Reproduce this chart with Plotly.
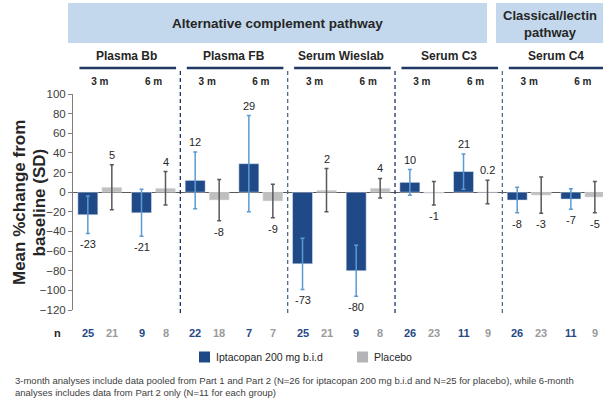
import plotly.graph_objects as go

# ---------------- data ----------------
panels = ["Plasma Bb", "Plasma FB", "Serum Wieslab", "Serum C3", "Serum C4"]
timepoints = ["3 m", "6 m"]
categories = [f"{p} {t}" for p in panels for t in timepoints]

ipt_mean = [-23, -21, 12, 29, -73, -80, 10, 21, -8, -7]
ipt_sd = [19, 24, 29, 49, 26, 26, 13, 18, 13, 10.5]
pbo_mean = [5, 4, -8, -9, 2, 4, -1, 0.2, -3, -5]
pbo_sd = [23, 17, 21, 17, 22, 10, 12, 12, 18.5, 16]
ipt_n = [25, 9, 22, 7, 25, 9, 26, 11, 26, 11]
pbo_n = [21, 8, 18, 7, 21, 8, 23, 9, 23, 9]

pathways = ["Alternative complement pathway", "Classical/lectin<br>pathway"]
series_names = ["Iptacopan 200 mg b.i.d", "Placebo"]
y_title_lines = ["Mean %change from", "baseline (SD)"]
footnote = ("3-month analyses include data pooled from Part 1 and Part 2 (N=26 for iptacopan 200 mg b.i.d "
            "and N=25 for placebo), while 6-month<br>analyses includes data from Part 2 only (N=11 for each group)")

# ---------------- style ----------------
W, H = 603, 398
ML, MR, MT, MB = 73, 0, 94, 88
PW, PH = W - ML - MR, H - MT - MB
BLUE = "#1F4A87"
GRAY = "#BFBFBF"
BLUE_ERR = "#5B9BD5"
GRAY_ERR = "#595959"
NAVY = "#1F3864"
HEADER_BG = "#C3D8EC"
TXT = "#262626"
FONT = "Liberation Sans, Arial, sans-serif"
BARGAP = 0.106
OFF = (1 - BARGAP) / 4


def py(p):  # pixel row -> paper y
    return (H - MB - p) / PH


def px(p):  # pixel column -> paper x
    return (p - ML) / PW


fig = go.Figure()
fig.add_trace(go.Bar(
    x=categories, y=ipt_mean, name=series_names[0], marker_color=BLUE,
    error_y=dict(type="data", array=ipt_sd, color=BLUE_ERR, thickness=1.5, width=2),
    showlegend=False))
fig.add_trace(go.Bar(
    x=categories, y=pbo_mean, name=series_names[1], marker_color=GRAY,
    error_y=dict(type="data", array=pbo_sd, color=GRAY_ERR, thickness=1.5, width=2),
    showlegend=False))

ann = []
shapes = []


def note(**kw):
    kw.setdefault("showarrow", False)
    kw.setdefault("xanchor", "center")
    kw.setdefault("yanchor", "middle")
    ann.append(kw)


# value labels
for i in range(len(categories)):
    for v, s, dx in ((ipt_mean[i], ipt_sd[i], -OFF), (pbo_mean[i], pbo_sd[i], OFF)):
        pos = v >= 0
        note(x=i + dx, y=v + s if pos else v - s, xref="x", yref="y",
             text=f"{v:g}", yshift=10 if pos else -11,
             font=dict(size=11, color=TXT, family=FONT))

# n row
note(x=px(57), y=py(333), xref="paper", yref="paper", text="<b>n</b>",
     font=dict(size=11, color=TXT, family=FONT))
for i in range(len(categories)):
    note(x=i - OFF, y=py(333), xref="x", yref="paper", text=f"<b>{ipt_n[i]}</b>",
         font=dict(size=11, color=BLUE, family=FONT))
    note(x=i + OFF, y=py(333), xref="x", yref="paper", text=f"<b>{pbo_n[i]}</b>",
         font=dict(size=11, color="#9A9A9A", family=FONT))

# panel titles, underlines, separators
for p, name in enumerate(panels):
    note(x=2 * p + 0.5, y=py(56), xref="x", yref="paper", text=f"<b>{name}</b>",
         font=dict(size=12, color=TXT, family=FONT))
    shapes.append(dict(type="line", xref="x", yref="paper", x0=2 * p - 0.38, x1=2 * p + 1.42,
                       y0=py(68), y1=py(68), line=dict(color=NAVY, width=2.5)))
    if p > 0:
        shapes.append(dict(type="line", xref="x", yref="paper", x0=2 * p - 0.5, x1=2 * p - 0.5,
                           y0=py(313), y1=py(69),
                           line=dict(color=NAVY if p % 2 else "#4F6B8F", width=1.3, dash="4px,3px")))

# header boxes
shapes.append(dict(type="rect", xref="paper", yref="paper", x0=px(68), x1=px(487),
                   y0=py(43), y1=py(3), fillcolor=HEADER_BG, line=dict(width=0), layer="below"))
shapes.append(dict(type="rect", xref="paper", yref="paper", x0=px(496), x1=px(603),
                   y0=py(43), y1=py(3), fillcolor=HEADER_BG, line=dict(width=0), layer="below"))
note(x=px((68 + 487) / 2), y=py(23), xref="paper", yref="paper",
     text=f"<b>{pathways[0]}</b>", font=dict(size=13.5, color=TXT, family=FONT))
note(x=px((496 + 603) / 2), y=py(24), xref="paper", yref="paper",
     text=f"<b>{pathways[1]}</b>", font=dict(size=13, color=TXT, family=FONT))

# y title (two lines, tighter spacing than plotly's default)
for cx, line in zip((19, 38.5), y_title_lines):
    note(x=px(cx), y=py(203), xref="paper", yref="paper", textangle=-90,
         text=f"<b>{line}</b>", font=dict(size=17, color=TXT, family=FONT))

# legend (manual)
for (x0, x1, tx), col, name in (((199, 210, 214), BLUE, series_names[0]),
                                ((357, 368, 372), "#B3B3B8", series_names[1])):
    shapes.append(dict(type="rect", xref="paper", yref="paper", x0=px(x0), x1=px(x1),
                       y0=py(362.5), y1=py(351.5), fillcolor=col, line=dict(width=0)))
    note(x=px(tx), y=py(357), xref="paper", yref="paper", xanchor="left",
         text=name, font=dict(size=10.5, color=TXT, family=FONT))

# footnote
note(x=px(13), y=py(386), xref="paper", yref="paper", xanchor="left", align="left",
     text=footnote, font=dict(size=9.5, color="#404040", family=FONT))

fig.update_layout(
    width=W, height=H, margin=dict(l=ML, r=MR, t=MT, b=MB),
    paper_bgcolor="white", plot_bgcolor="white",
    barmode="group", bargap=BARGAP, bargroupgap=0.167,
    font=dict(family=FONT, color=TXT),
    annotations=ann, shapes=shapes,
    xaxis=dict(type="category", range=[-0.5, -0.5 + PW / 53.67], side="top",
               tickvals=categories, ticktext=[f"<b>{t}</b>" for _ in panels for t in timepoints],
               tickfont=dict(size=10, color=TXT, family=FONT), ticks="", ticklabelstandoff=6,
               showline=False, showgrid=False, zeroline=False),
    yaxis=dict(range=[-120, 100], dtick=20, showgrid=False, showline=True, linecolor="#7F7F7F",
               linewidth=1, ticks="outside", ticklen=4, tickcolor="#7F7F7F",
               tickfont=dict(size=11.5, color="#404040", family=FONT),
               zeroline=True, zerolinecolor="#595959", zerolinewidth=1.2),
)

fig.write_html("out.html")
